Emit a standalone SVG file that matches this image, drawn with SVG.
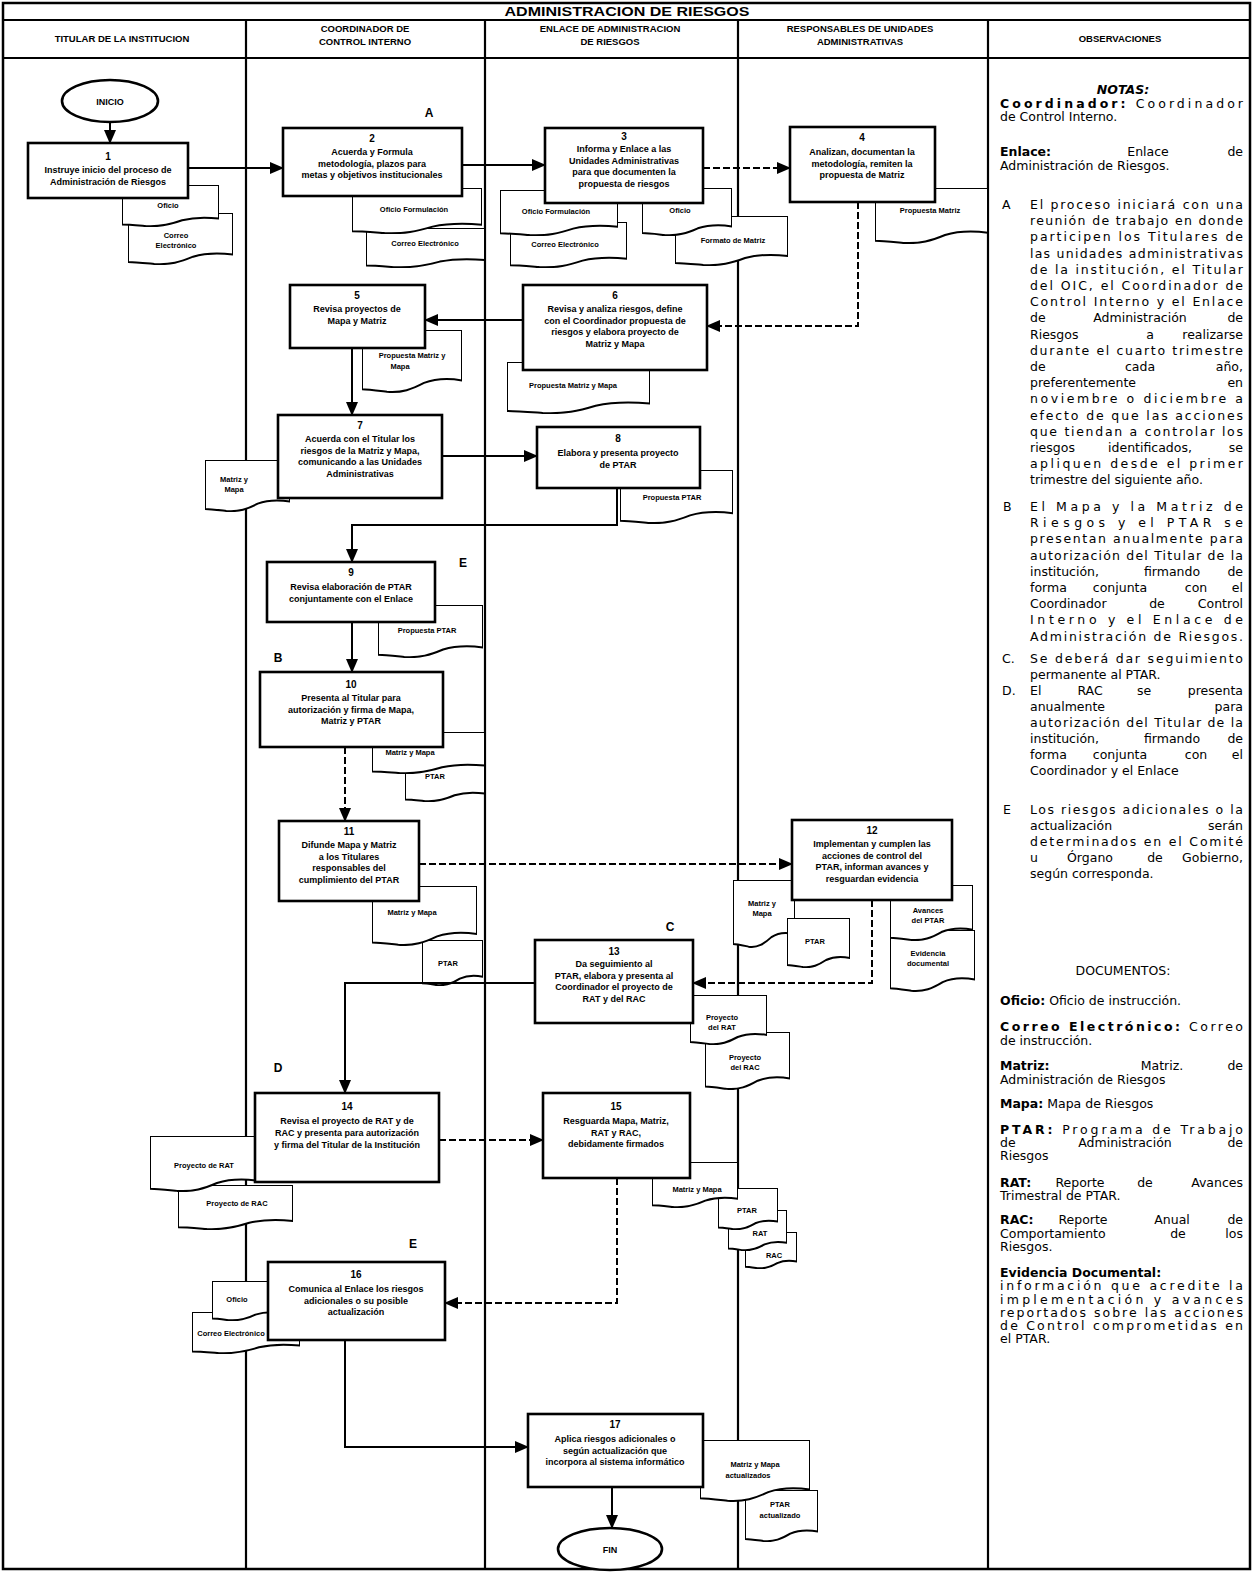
<svg xmlns="http://www.w3.org/2000/svg" width="1253" height="1573" viewBox="0 0 1253 1573">
<style>
.frame{fill:none;stroke:#000;stroke-width:2.5}
.lane{stroke:#000;stroke-width:2.2}
.box{fill:#fff;stroke:#000;stroke-width:2.6}
.doc{fill:#fff;stroke:#000;stroke-width:2}
.term{fill:#fff;stroke:#000;stroke-width:2.6}
.ln{fill:none;stroke:#000;stroke-width:2}
.dash{stroke-dasharray:7 3}
.t{font-family:"Liberation Sans",Arial,sans-serif;fill:#000}
.bt{font-size:9px;font-weight:bold;text-anchor:middle}
.num{font-size:10px;font-weight:bold;text-anchor:middle}
.dt{font-size:7.5px;font-weight:bold;text-anchor:middle}
.hd{font-size:9.5px;font-weight:bold;text-anchor:middle}
.lab{font-size:12px;font-weight:bold;text-anchor:middle}
.n{font-family:"DejaVu Sans","Liberation Sans",sans-serif;font-size:12.5px}
.nm{font-family:"DejaVu Sans","Liberation Sans",sans-serif;font-size:12.5px;text-anchor:middle}
.ne{font-family:"DejaVu Sans","Liberation Sans",sans-serif;font-size:12.5px;text-anchor:end}
.b{font-weight:bold}
</style>
<defs>
<symbol id="doc" viewBox="0 0 100 50" preserveAspectRatio="none">
<path vector-effect="non-scaling-stroke" d="M0,0 H100 V40 C85,38 72,39 62,42 C50,47 40,50 25,49 C15,48 6,47 0,47 Z"/>
</symbol>
<marker id="ah" markerUnits="userSpaceOnUse" markerWidth="14" markerHeight="12" refX="13" refY="6" orient="auto">
<path d="M0,0 L14,6 L0,12 Z" fill="#000"/>
</marker>
</defs>

<g id="frame">
<rect class="frame" x="3" y="3" width="1247" height="1566"/>
<line class="lane" x1="3" y1="20" x2="1250" y2="20"/>
<line class="lane" x1="3" y1="58" x2="1250" y2="58"/>
<line class="lane" x1="246" y1="20" x2="246" y2="1569"/>
<line class="lane" x1="485" y1="20" x2="485" y2="1569"/>
<line class="lane" x1="738" y1="20" x2="738" y2="1569"/>
<line class="lane" x1="988" y1="20" x2="988" y2="1569"/>
<text class="t" x="627" y="16" font-size="13" font-weight="bold" text-anchor="middle" textLength="245" lengthAdjust="spacingAndGlyphs">ADMINISTRACION DE RIESGOS</text>
<text class="t hd" x="122" y="42">TITULAR DE LA INSTITUCION</text>
<text class="t hd" x="365" y="32">COORDINADOR DE</text>
<text class="t hd" x="365" y="45">CONTROL INTERNO</text>
<text class="t hd" x="610" y="32">ENLACE DE ADMINISTRACION</text>
<text class="t hd" x="610" y="45">DE RIESGOS</text>
<text class="t hd" x="860" y="32">RESPONSABLES DE UNIDADES</text>
<text class="t hd" x="860" y="45">ADMINISTRATIVAS</text>
<text class="t hd" x="1120" y="42">OBSERVACIONES</text>
</g>

<g id="labels">
<text class="t lab" x="429" y="117">A</text>
<text class="t lab" x="463" y="567" font-size="9">E</text>
<text class="t lab" x="278" y="662">B</text>
<text class="t lab" x="670" y="931">C</text>
<text class="t lab" x="278" y="1072">D</text>
<text class="t lab" x="413" y="1248">E</text>
</g>

<g id="inicio">
<ellipse class="term" cx="110" cy="101" rx="48" ry="21"/>
<text class="t bt" x="110" y="104.5" font-size="9.5">INICIO</text>
</g>

<g id="n1">
<use href="#doc" class="doc" x="128" y="213" width="105" height="52"/>
<text class="t dt" x="176" y="238">Correo</text>
<text class="t dt" x="176" y="248">Electrónico</text>
<use href="#doc" class="doc" x="122" y="185" width="97" height="42"/>
<text class="t dt" x="168" y="208">Oficio</text>
<rect class="box" x="28" y="143" width="160" height="55"/>
<text class="t num" x="108" y="160">1</text>
<text class="t bt" x="108" y="173">Instruye inicio del proceso de</text>
<text class="t bt" x="108" y="184.5">Administración de Riesgos</text>
</g>

<g id="n2">
<use href="#doc" class="doc" x="366" y="228" width="119" height="40"/>
<text class="t dt" x="425" y="246">Correo Electrónico</text>
<use href="#doc" class="doc" x="352" y="188" width="130" height="46"/>
<text class="t dt" x="414" y="212">Oficio Formulación</text>
<rect class="box" x="283" y="128" width="179" height="68"/>
<text class="t num" x="372" y="142">2</text>
<text class="t bt" x="372" y="155">Acuerda y Formula</text>
<text class="t bt" x="372" y="166.5">metodología, plazos para</text>
<text class="t bt" x="372" y="178">metas y objetivos institucionales</text>
</g>

<g id="n3">
<use href="#doc" class="doc" x="510" y="222" width="117" height="46"/>
<text class="t dt" x="565" y="247">Correo Electrónico</text>
<use href="#doc" class="doc" x="500" y="190" width="118" height="46"/>
<text class="t dt" x="556" y="214">Oficio Formulación</text>
<use href="#doc" class="doc" x="675" y="216" width="113" height="50"/>
<text class="t dt" x="733" y="243">Formato de Matriz</text>
<use href="#doc" class="doc" x="642" y="188" width="90" height="48"/>
<text class="t dt" x="680" y="213">Oficio</text>
<rect class="box" x="545" y="128" width="158" height="75"/>
<text class="t num" x="624" y="140">3</text>
<text class="t bt" x="624" y="152">Informa y Enlace a las</text>
<text class="t bt" x="624" y="163.5">Unidades Administrativas</text>
<text class="t bt" x="624" y="175">para que documenten la</text>
<text class="t bt" x="624" y="186.5">propuesta de riesgos</text>
</g>

<g id="n4">
<use href="#doc" class="doc" x="875" y="188" width="113" height="56"/>
<text class="t dt" x="930" y="213">Propuesta Matriz</text>
<rect class="box" x="790" y="127" width="145" height="75"/>
<text class="t num" x="862" y="141">4</text>
<text class="t bt" x="862" y="155">Analizan, documentan la</text>
<text class="t bt" x="862" y="166.5">metodología, remiten la</text>
<text class="t bt" x="862" y="178">propuesta de Matriz</text>
</g>

<g id="n5">
<use href="#doc" class="doc" x="362" y="330" width="100" height="63"/>
<text class="t dt" x="412" y="358">Propuesta Matriz y</text>
<text class="t dt" x="400" y="369">Mapa</text>
<rect class="box" x="290" y="285" width="135" height="63"/>
<text class="t num" x="357" y="299">5</text>
<text class="t bt" x="357" y="312">Revisa proyectos de</text>
<text class="t bt" x="357" y="323.5">Mapa y Matriz</text>
</g>

<g id="n6">
<use href="#doc" class="doc" x="507" y="362" width="143" height="52"/>
<text class="t dt" x="573" y="388">Propuesta Matriz y Mapa</text>
<rect class="box" x="523" y="285" width="184" height="85"/>
<text class="t num" x="615" y="299">6</text>
<text class="t bt" x="615" y="312">Revisa y analiza riesgos, define</text>
<text class="t bt" x="615" y="323.5">con el Coordinador propuesta de</text>
<text class="t bt" x="615" y="335">riesgos y elabora proyecto de</text>
<text class="t bt" x="615" y="346.5">Matriz y Mapa</text>
</g>

<g id="n7">
<use href="#doc" class="doc" x="205" y="460" width="85" height="52"/>
<text class="t dt" x="234" y="482">Matriz y</text>
<text class="t dt" x="234" y="492">Mapa</text>
<rect class="box" x="278" y="415" width="164" height="83"/>
<text class="t num" x="360" y="429">7</text>
<text class="t bt" x="360" y="442">Acuerda con el Titular los</text>
<text class="t bt" x="360" y="453.5">riesgos de la Matriz y Mapa,</text>
<text class="t bt" x="360" y="465">comunicando a las Unidades</text>
<text class="t bt" x="360" y="476.5">Administrativas</text>
</g>

<g id="n8">
<use href="#doc" class="doc" x="620" y="470" width="113" height="54"/>
<text class="t dt" x="672" y="500">Propuesta PTAR</text>
<rect class="box" x="537" y="427" width="163" height="61"/>
<text class="t num" x="618" y="442">8</text>
<text class="t bt" x="618" y="456">Elabora y presenta proyecto</text>
<text class="t bt" x="618" y="467.5">de PTAR</text>
</g>

<g id="n9">
<use href="#doc" class="doc" x="378" y="605" width="105" height="53"/>
<text class="t dt" x="427" y="633">Propuesta PTAR</text>
<rect class="box" x="267" y="562" width="168" height="60"/>
<text class="t num" x="351" y="576">9</text>
<text class="t bt" x="351" y="590">Revisa elaboración de PTAR</text>
<text class="t bt" x="351" y="601.5">conjuntamente con el Enlace</text>
</g>

<g id="n10">
<use href="#doc" class="doc" x="405" y="760" width="80" height="42"/>
<text class="t dt" x="435" y="779">PTAR</text>
<use href="#doc" class="doc" x="372" y="732" width="113" height="42"/>
<text class="t dt" x="410" y="755">Matriz y Mapa</text>
<rect class="box" x="260" y="672" width="183" height="75"/>
<text class="t num" x="351" y="688">10</text>
<text class="t bt" x="351" y="701">Presenta al Titular para</text>
<text class="t bt" x="351" y="712.5">autorización y firma de Mapa,</text>
<text class="t bt" x="351" y="724">Matriz y PTAR</text>
</g>

<g id="n11">
<use href="#doc" class="doc" x="422" y="940" width="61" height="46"/>
<text class="t dt" x="448" y="966">PTAR</text>
<use href="#doc" class="doc" x="372" y="886" width="105" height="60"/>
<text class="t dt" x="412" y="915">Matriz y Mapa</text>
<rect class="box" x="279" y="821" width="140" height="80"/>
<text class="t num" x="349" y="835">11</text>
<text class="t bt" x="349" y="848">Difunde Mapa y Matriz</text>
<text class="t bt" x="349" y="859.5">a los Titulares</text>
<text class="t bt" x="349" y="871">responsables del</text>
<text class="t bt" x="349" y="882.5">cumplimiento del PTAR</text>
</g>

<g id="n12">
<use href="#doc" class="doc" x="733" y="880" width="62" height="68"/>
<text class="t dt" x="762" y="906">Matriz y</text>
<text class="t dt" x="762" y="916">Mapa</text>
<use href="#doc" class="doc" x="787" y="918" width="63" height="50"/>
<text class="t dt" x="815" y="944">PTAR</text>
<use href="#doc" class="doc" x="890" y="930" width="85" height="62"/>
<text class="t dt" x="928" y="956">Evidencia</text>
<text class="t dt" x="928" y="966">documental</text>
<use href="#doc" class="doc" x="890" y="885" width="83" height="56"/>
<text class="t dt" x="928" y="913">Avances</text>
<text class="t dt" x="928" y="923">del PTAR</text>
<rect class="box" x="792" y="820" width="160" height="80"/>
<text class="t num" x="872" y="834">12</text>
<text class="t bt" x="872" y="847">Implementan y cumplen las</text>
<text class="t bt" x="872" y="858.5">acciones de control del</text>
<text class="t bt" x="872" y="870">PTAR, informan avances y</text>
<text class="t bt" x="872" y="881.5">resguardan evidencia</text>
</g>

<g id="n13">
<use href="#doc" class="doc" x="705" y="1032" width="85" height="58"/>
<text class="t dt" x="745" y="1060">Proyecto</text>
<text class="t dt" x="745" y="1070">del RAC</text>
<use href="#doc" class="doc" x="690" y="995" width="77" height="50"/>
<text class="t dt" x="722" y="1020">Proyecto</text>
<text class="t dt" x="722" y="1030">del RAT</text>
<rect class="box" x="535" y="940" width="158" height="83"/>
<text class="t num" x="614" y="955">13</text>
<text class="t bt" x="614" y="967">Da seguimiento al</text>
<text class="t bt" x="614" y="978.5">PTAR, elabora y presenta al</text>
<text class="t bt" x="614" y="990">Coordinador el proyecto de</text>
<text class="t bt" x="614" y="1001.5">RAT y del RAC</text>
</g>

<g id="n14">
<use href="#doc" class="doc" x="178" y="1185" width="115" height="45"/>
<text class="t dt" x="237" y="1206">Proyecto de RAC</text>
<use href="#doc" class="doc" x="150" y="1136" width="108" height="56"/>
<text class="t dt" x="204" y="1168">Proyecto de RAT</text>
<rect class="box" x="255" y="1093" width="184" height="89"/>
<text class="t num" x="347" y="1110">14</text>
<text class="t bt" x="347" y="1124">Revisa el proyecto de RAT y de</text>
<text class="t bt" x="347" y="1136">RAC y presenta para autorización</text>
<text class="t bt" x="347" y="1148" font-size="8.3">y firma del Titular de la Institución</text>
</g>

<g id="n15">
<use href="#doc" class="doc" x="745" y="1232" width="52" height="37"/>
<text class="t dt" x="774" y="1258">RAC</text>
<use href="#doc" class="doc" x="728" y="1210" width="59" height="41"/>
<text class="t dt" x="760" y="1236">RAT</text>
<use href="#doc" class="doc" x="718" y="1188" width="60" height="42"/>
<text class="t dt" x="747" y="1213">PTAR</text>
<use href="#doc" class="doc" x="652" y="1162" width="86" height="46"/>
<text class="t dt" x="697" y="1192">Matriz y Mapa</text>
<rect class="box" x="543" y="1093" width="147" height="85"/>
<text class="t num" x="616" y="1110">15</text>
<text class="t bt" x="616" y="1124">Resguarda Mapa, Matriz,</text>
<text class="t bt" x="616" y="1135.5">RAT y RAC,</text>
<text class="t bt" x="616" y="1147">debidamente firmados</text>
</g>

<g id="n16">
<use href="#doc" class="doc" x="192" y="1312" width="108" height="42"/>
<text class="t dt" x="231" y="1336">Correo Electrónico</text>
<use href="#doc" class="doc" x="212" y="1281" width="70" height="40"/>
<text class="t dt" x="237" y="1302">Oficio</text>
<rect class="box" x="268" y="1262" width="177" height="78"/>
<text class="t num" x="356" y="1278">16</text>
<text class="t bt" x="356" y="1292">Comunica al Enlace los riesgos</text>
<text class="t bt" x="356" y="1303.5">adicionales o su posible</text>
<text class="t bt" x="356" y="1315">actualización</text>
</g>

<g id="n17">
<use href="#doc" class="doc" x="745" y="1490" width="73" height="52"/>
<text class="t dt" x="780" y="1507">PTAR</text>
<text class="t dt" x="780" y="1518">actualizado</text>
<use href="#doc" class="doc" x="700" y="1440" width="110" height="62"/>
<text class="t dt" x="755" y="1467">Matriz y Mapa</text>
<text class="t dt" x="748" y="1478">actualizados</text>
<rect class="box" x="528" y="1414" width="175" height="73"/>
<text class="t num" x="615" y="1428">17</text>
<text class="t bt" x="615" y="1442">Aplica riesgos adicionales o</text>
<text class="t bt" x="615" y="1453.5">según actualización que</text>
<text class="t bt" x="615" y="1465">incorpora al sistema informático</text>
</g>

<g id="fin">
<ellipse class="term" cx="610" cy="1549" rx="52" ry="21"/>
<text class="t bt" x="610" y="1552.5" font-size="9.5">FIN</text>
</g>

<g id="connectors">
<path class="ln" d="M110,122 V143" marker-end="url(#ah)"/>
<path class="ln" d="M188,168 H283" marker-end="url(#ah)"/>
<path class="ln" d="M462,165 H545" marker-end="url(#ah)"/>
<path class="ln dash" d="M703,168 H790" marker-end="url(#ah)"/>
<path class="ln dash" d="M858,202 V326 H707" marker-end="url(#ah)"/>
<path class="ln" d="M523,320 H425" marker-end="url(#ah)"/>
<path class="ln" stroke-width="3.5" d="M352,348 V415" marker-end="url(#ah)"/>
<path class="ln" d="M442,456 H537" marker-end="url(#ah)"/>
<path class="ln" d="M617,488 V525 H352 V562" marker-end="url(#ah)"/>
<path class="ln" d="M352,622 V672" marker-end="url(#ah)"/>
<path class="ln dash" d="M345,747 V821" marker-end="url(#ah)"/>
<path class="ln dash" d="M419,864 H792" marker-end="url(#ah)"/>
<path class="ln dash" d="M872,900 V983 H693" marker-end="url(#ah)"/>
<path class="ln" d="M535,983 H345 V1093" marker-end="url(#ah)"/>
<path class="ln dash" d="M439,1140 H543" marker-end="url(#ah)"/>
<path class="ln dash" d="M617,1178 V1303 H445" marker-end="url(#ah)"/>
<path class="ln" d="M345,1340 V1447 H528" marker-end="url(#ah)"/>
<path class="ln" d="M612,1487 V1528" marker-end="url(#ah)"/>
</g>

<g id="notas">
<text class="t nm b" x="1123" y="94" font-style="italic">NOTAS:</text>
<text class="t n" x="1000" y="108" textLength="243" lengthAdjust="spacing"><tspan class="b">Coordinador:</tspan> Coordinador</text>
<text class="t n" x="1000" y="121">de Control Interno.</text>
<text class="t n b" x="1000" y="156">Enlace:</text><text class="t nm" x="1148" y="156">Enlace</text><text class="t ne" x="1243" y="156">de</text>
<text class="t n" x="1000" y="170">Administración de Riesgos.</text>

<text class="t n" x="1002" y="209">A</text>
<text class="t n" x="1030" y="209" textLength="213" lengthAdjust="spacing">El proceso iniciará con una</text>
<text class="t n" x="1030" y="225" textLength="213" lengthAdjust="spacing">reunión de trabajo en donde</text>
<text class="t n" x="1030" y="241" textLength="213" lengthAdjust="spacing">participen los Titulares de</text>
<text class="t n" x="1030" y="258" textLength="213" lengthAdjust="spacing">las unidades administrativas</text>
<text class="t n" x="1030" y="274" textLength="213" lengthAdjust="spacing">de la institución, el Titular</text>
<text class="t n" x="1030" y="290" textLength="213" lengthAdjust="spacing">del OIC, el Coordinador de</text>
<text class="t n" x="1030" y="306" textLength="213" lengthAdjust="spacing">Control Interno y el Enlace</text>
<text class="t n" x="1030" y="322">de</text><text class="t nm" x="1140" y="322">Administración</text><text class="t ne" x="1243" y="322">de</text>
<text class="t n" x="1030" y="339">Riesgos</text><text class="t nm" x="1150" y="339">a</text><text class="t ne" x="1243" y="339">realizarse</text>
<text class="t n" x="1030" y="355" textLength="213" lengthAdjust="spacing">durante el cuarto trimestre</text>
<text class="t n" x="1030" y="371">de</text><text class="t nm" x="1140" y="371">cada</text><text class="t ne" x="1243" y="371">año,</text>
<text class="t n" x="1030" y="387">preferentemente</text><text class="t ne" x="1243" y="387">en</text>
<text class="t n" x="1030" y="403" textLength="213" lengthAdjust="spacing">noviembre o diciembre a</text>
<text class="t n" x="1030" y="420" textLength="213" lengthAdjust="spacing">efecto de que las acciones</text>
<text class="t n" x="1030" y="436" textLength="213" lengthAdjust="spacing">que tiendan a controlar los</text>
<text class="t n" x="1030" y="452">riesgos</text><text class="t nm" x="1150" y="452">identificados,</text><text class="t ne" x="1243" y="452">se</text>
<text class="t n" x="1030" y="468" textLength="213" lengthAdjust="spacing">apliquen desde el primer</text>
<text class="t n" x="1030" y="484">trimestre del siguiente año.</text>

<text class="t n" x="1003" y="511">B</text>
<text class="t n" x="1030" y="511" textLength="213" lengthAdjust="spacing">El Mapa y la Matriz de</text>
<text class="t n" x="1030" y="527" textLength="213" lengthAdjust="spacing">Riesgos y el PTAR se</text>
<text class="t n" x="1030" y="543" textLength="213" lengthAdjust="spacing">presentan anualmente para</text>
<text class="t n" x="1030" y="560" textLength="213" lengthAdjust="spacing">autorización del Titular de la</text>
<text class="t n" x="1030" y="576">institución,</text><text class="t nm" x="1172" y="576">firmando</text><text class="t ne" x="1243" y="576">de</text>
<text class="t n" x="1030" y="592">forma</text><text class="t nm" x="1120" y="592">conjunta</text><text class="t nm" x="1196" y="592">con</text><text class="t ne" x="1243" y="592">el</text>
<text class="t n" x="1030" y="608">Coordinador</text><text class="t nm" x="1157" y="608">de</text><text class="t ne" x="1243" y="608">Control</text>
<text class="t n" x="1030" y="624" textLength="213" lengthAdjust="spacing">Interno y el Enlace de</text>
<text class="t n" x="1030" y="641" textLength="213" lengthAdjust="spacing">Administración de Riesgos.</text>

<text class="t n" x="1002" y="663">C.</text>
<text class="t n" x="1030" y="663" textLength="213" lengthAdjust="spacing">Se deberá dar seguimiento</text>
<text class="t n" x="1030" y="679">permanente al PTAR.</text>

<text class="t n" x="1002" y="695">D.</text>
<text class="t n" x="1030" y="695">El</text><text class="t nm" x="1090" y="695">RAC</text><text class="t nm" x="1144" y="695">se</text><text class="t ne" x="1243" y="695">presenta</text>
<text class="t n" x="1030" y="711">anualmente</text><text class="t ne" x="1243" y="711">para</text>
<text class="t n" x="1030" y="727" textLength="213" lengthAdjust="spacing">autorización del Titular de la</text>
<text class="t n" x="1030" y="743">institución,</text><text class="t nm" x="1172" y="743">firmando</text><text class="t ne" x="1243" y="743">de</text>
<text class="t n" x="1030" y="759">forma</text><text class="t nm" x="1120" y="759">conjunta</text><text class="t nm" x="1196" y="759">con</text><text class="t ne" x="1243" y="759">el</text>
<text class="t n" x="1030" y="775">Coordinador y el Enlace</text>

<text class="t n" x="1003" y="814">E</text>
<text class="t n" x="1030" y="814" textLength="213" lengthAdjust="spacing">Los riesgos adicionales o la</text>
<text class="t n" x="1030" y="830">actualización</text><text class="t ne" x="1243" y="830">serán</text>
<text class="t n" x="1030" y="846" textLength="213" lengthAdjust="spacing">determinados en el Comité</text>
<text class="t n" x="1030" y="862">u</text><text class="t nm" x="1090" y="862">Órgano</text><text class="t nm" x="1155" y="862">de</text><text class="t ne" x="1243" y="862">Gobierno,</text>
<text class="t n" x="1030" y="878">según corresponda.</text>
</g>

<g id="documentos">
<text class="t nm" x="1123" y="975" font-size="13.5">DOCUMENTOS:</text>
<text class="t n" x="1000" y="1005"><tspan class="b">Oficio:</tspan> Oficio de instrucción.</text>
<text class="t n" x="1000" y="1031" textLength="243" lengthAdjust="spacing"><tspan class="b">Correo Electrónico:</tspan> Correo</text>
<text class="t n" x="1000" y="1045">de instrucción.</text>
<text class="t n b" x="1000" y="1070">Matriz:</text><text class="t nm" x="1162" y="1070">Matriz.</text><text class="t ne" x="1243" y="1070">de</text>
<text class="t n" x="1000" y="1084">Administración de Riesgos</text>
<text class="t n" x="1000" y="1108"><tspan class="b">Mapa:</tspan> Mapa de Riesgos</text>
<text class="t n" x="1000" y="1134" textLength="243" lengthAdjust="spacing"><tspan class="b">PTAR:</tspan> Programa de Trabajo</text>
<text class="t n" x="1000" y="1147">de</text><text class="t nm" x="1125" y="1147">Administración</text><text class="t ne" x="1243" y="1147">de</text>
<text class="t n" x="1000" y="1160">Riesgos</text>
<text class="t n b" x="1000" y="1187">RAT:</text><text class="t nm" x="1080" y="1187">Reporte</text><text class="t nm" x="1145" y="1187">de</text><text class="t ne" x="1243" y="1187">Avances</text>
<text class="t n" x="1000" y="1200">Trimestral de PTAR.</text>
<text class="t n b" x="1000" y="1224">RAC:</text><text class="t nm" x="1083" y="1224">Reporte</text><text class="t nm" x="1172" y="1224">Anual</text><text class="t ne" x="1243" y="1224">de</text>
<text class="t n" x="1000" y="1238">Comportamiento</text><text class="t nm" x="1178" y="1238">de</text><text class="t ne" x="1243" y="1238">los</text>
<text class="t n" x="1000" y="1251">Riesgos.</text>
<text class="t n b" x="1000" y="1277">Evidencia Documental:</text>
<text class="t n" x="1000" y="1290" textLength="243" lengthAdjust="spacing">información que acredite la</text>
<text class="t n" x="1000" y="1304" textLength="243" lengthAdjust="spacing">implementación y avances</text>
<text class="t n" x="1000" y="1317" textLength="243" lengthAdjust="spacing">reportados sobre las acciones</text>
<text class="t n" x="1000" y="1330" textLength="243" lengthAdjust="spacing">de Control comprometidas en</text>
<text class="t n" x="1000" y="1343">el PTAR.</text>
</g>
</svg>
